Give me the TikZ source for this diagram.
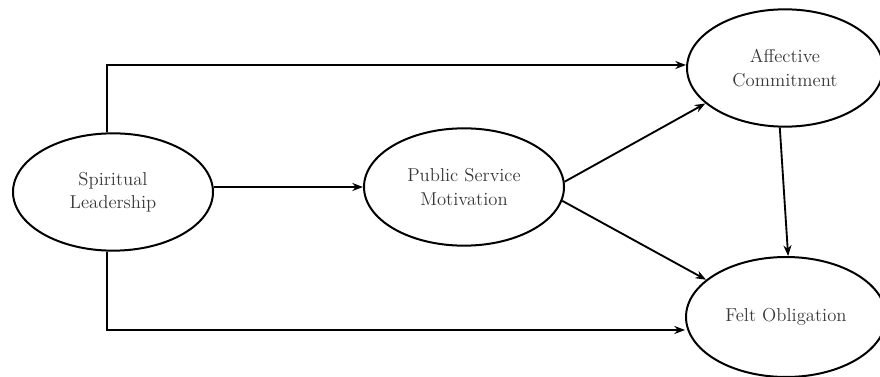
\documentclass[tikz,border=0pt]{standalone}
\usetikzlibrary{shapes.geometric,arrows.meta}
\begin{document}
\begin{tikzpicture}[x=0.75pt,y=-0.75pt,
  construct/.style={ellipse,draw,line width=1.5pt,minimum width=150pt,minimum height=88pt,
    align=center,inner sep=0pt,font=\fontsize{14}{17.5}\selectfont,text=black!78},
  link/.style={line width=1.4pt,-{Stealth[length=8pt,width=6pt]}}]
\useasboundingbox (0,0) rectangle (880,377);
\node[construct] (sl) at (113,192) {Spiritual\\Leadership};
\node[construct] (psm) at (464,187) {Public Service\\Motivation};
\node[construct,minimum width=147pt] (ac) at (785,68) {Affective\\Commitment};
\node[construct,minimum height=90pt] (fo) at (786,317) {Felt Obligation};
\coordinate (t1) at (107,65);
\coordinate (b1) at (107,330);
\draw[link] (sl.north -| t1) -- (t1) -- (t1 -| ac.west);
\draw[link] (sl.south -| b1) -- (b1) -- (b1 -| fo.west);
\draw[link] (psm.west -| sl.east) -- (psm.west);
\draw[link] (psm.3) -- (ac.204);
\draw[link] (psm.-8) -- (fo.155);
\draw[link] (ac.-95) -- (fo.88);
\end{tikzpicture}
\end{document}
